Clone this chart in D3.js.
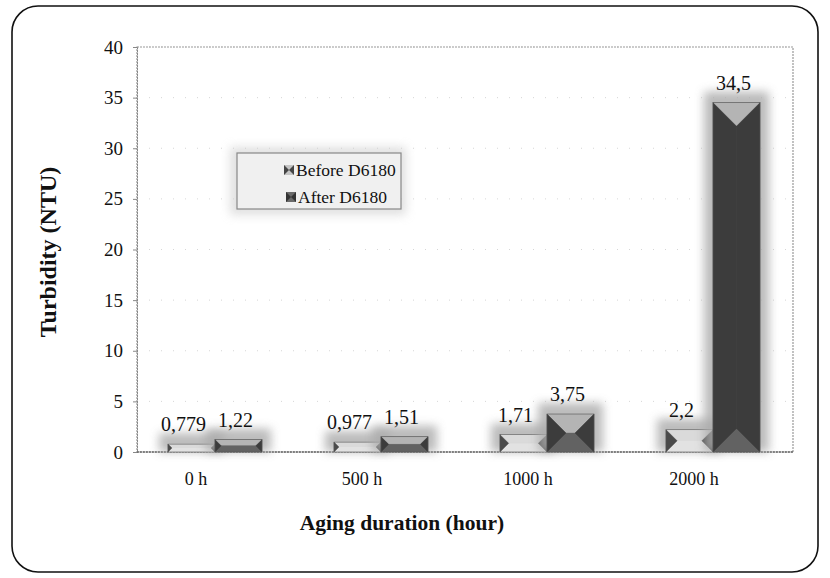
<!DOCTYPE html>
<html><head><meta charset="utf-8">
<script src="https://cdn.jsdelivr.net/npm/d3@7"></script>
<style>body{margin:0;background:#fff;} svg text{font-family:"Liberation Serif","DejaVu Serif",serif !important;}</style>
</head><body>
<svg id="c" width="830" height="578"></svg>
<script>
const categories = ["0 h", "500 h", "1000 h", "2000 h"];
const seriesNames = ["Before D6180", "After D6180"];
const beforeValues = [0.779, 0.977, 1.71, 2.2];
const afterValues = [1.22, 1.51, 3.75, 34.5];
const beforeLabels = ["0,779", "0,977", "1,71", "2,2"];
const afterLabels = ["1,22", "1,51", "3,75", "34,5"];
const yTicks = [0, 5, 10, 15, 20, 25, 30, 35, 40];

const FONT = "'Liberation Serif', 'DejaVu Serif', serif";
const svg = d3.select("#c");
const defs = svg.append("defs");
const f = defs.append("filter").attr("id","glow").attr("x","-50%").attr("y","-50%").attr("width","200%").attr("height","200%");
f.append("feGaussianBlur").attr("stdDeviation",5);

// outer rounded frame
svg.append("rect").attr("x",12).attr("y",6).attr("width",806).attr("height",566)
  .attr("rx",26).attr("ry",26).attr("fill","#fff").attr("stroke","#111").attr("stroke-width",1.6);

const plot = {l:137, r:793, t:47, b:452};
const x = d3.scaleBand().domain(categories).range([132, 796]).paddingInner(0).paddingOuter(0);
const y = d3.scaleLinear().domain([0, 40]).range([plot.b, plot.t]);
const barW = 47;

// faint gridlines
svg.append("g").selectAll("line").data(yTicks.slice(1)).join("line")
  .attr("x1",plot.l).attr("x2",plot.r).attr("y1",d=>y(d)).attr("y2",d=>y(d))
  .attr("stroke","#ccc").attr("stroke-width",0.8).attr("stroke-dasharray","1,11");

// plot border
svg.append("rect").attr("x",plot.l).attr("y",plot.t).attr("width",plot.r-plot.l).attr("height",plot.b-plot.t)
  .attr("fill","none").attr("stroke","#999").attr("stroke-width",1.2).attr("stroke-dasharray","2,1");

// y axis
const yAxis = d3.axisLeft(y).tickValues(yTicks).tickSize(4).tickPadding(10);
const ga = svg.append("g").attr("transform",`translate(${plot.l},0)`).call(yAxis);
ga.attr("font-family", FONT);
ga.select(".domain").attr("stroke","#888").attr("stroke-dasharray","2,1");
ga.selectAll(".tick line").attr("stroke","#888");
ga.selectAll("text").attr("font-size",19).attr("fill","#111").style("font-family",FONT);

// x axis baseline
svg.append("line").attr("x1",plot.l).attr("x2",plot.r).attr("y1",plot.b).attr("y2",plot.b)
  .attr("stroke","#666").attr("stroke-width",1.5).attr("stroke-dasharray","2,1");

// x tick labels
svg.append("g").selectAll("text").data(categories).join("text")
  .attr("x",d=>x(d)+x.bandwidth()/2-19).attr("y",485).attr("text-anchor","middle")
  .attr("font-size",18).attr("fill","#111").style("font-family",FONT).text(d=>d);

function bevelBar(g, x0, w, v, light, mid, dark, top, bottom) {
  const y0 = y(v), y1 = y(0), h = y1 - y0;
  const d = Math.min(w/2, h/2);
  g.append("rect").attr("x",x0-9).attr("y",y0-11).attr("width",w+18).attr("height",h+11)
    .attr("fill","#aaa").attr("opacity",0.8).attr("filter","url(#glow)");
  const xl = x0, xr = x0 + w;
  const pts = {
    tl:[xl,y0], tr:[xr,y0], bl:[xl,y1], br:[xr,y1],
    itl:[xl+d,y0+d], itr:[xr-d,y0+d], ibl:[xl+d,y1-d], ibr:[xr-d,y1-d]
  };
  const poly = (arr, fill) => g.append("polygon").attr("points",arr.map(p=>p.join(",")).join(" "))
    .attr("fill",fill).attr("stroke",fill).attr("stroke-width",0.4);
  g.append("rect").attr("x",xl).attr("y",y0).attr("width",w).attr("height",h).attr("fill",mid);
  poly([pts.tl,pts.tr,pts.itr,pts.itl], top);
  poly([pts.bl,pts.br,pts.ibr,pts.ibl], bottom);
  poly([pts.tl,pts.itl,pts.ibl,pts.bl], dark);
  poly([pts.tr,pts.itr,pts.ibr,pts.br], dark);
  g.append("rect").attr("x",xl).attr("y",y0).attr("width",w).attr("height",h)
    .attr("fill","none").attr("stroke","#555").attr("stroke-width",0.6);
}

const bars = svg.append("g");
categories.forEach((c,i)=>{
  const cx = x(c) + x.bandwidth()/2;
  bevelBar(bars, cx - barW, barW, beforeValues[i], "#e6e6e6", "#c4c4c4", "#4a4a4a", "#dadada", "#e2e2e2");
  bevelBar(bars, cx, barW, afterValues[i], "#9a9a9a", "#626262", "#3c3c3c", "#b4b4b4", "#626262");
});

// value labels
svg.append("g").selectAll("text").data(categories).join("text")
  .attr("x",(d)=>x(d)+x.bandwidth()/2-barW/2-8)
  .attr("y",(d,i)=>y(beforeValues[i])-13)
  .attr("text-anchor","middle").attr("font-size",20).attr("fill","#111").style("font-family",FONT)
  .text((d,i)=>beforeLabels[i]);
svg.append("g").selectAll("text").data(categories).join("text")
  .attr("x",(d)=>x(d)+x.bandwidth()/2+barW/2-3)
  .attr("y",(d,i)=>y(afterValues[i])-13)
  .attr("text-anchor","middle").attr("font-size",20).attr("fill","#111").style("font-family",FONT)
  .text((d,i)=>afterLabels[i]);

// legend
const lg = svg.append("g");
lg.append("rect").attr("x",230).attr("y",147).attr("width",176).attr("height",68)
  .attr("fill","#ccc").attr("opacity",0.6).attr("filter","url(#glow)");
lg.append("rect").attr("x",237).attr("y",153).attr("width",164).attr("height",56)
  .attr("fill","#f0f0f0").attr("stroke","#888").attr("stroke-width",1.2);
const legColors = [["#c4c4c4","#444"],["#6a6a6a","#333"]];
seriesNames.forEach((s,i)=>{
  const yy = 170 + i*27;
  const ix = 284 + i*2;
  lg.append("rect").attr("x",ix).attr("y",yy-5).attr("width",10).attr("height",10).attr("fill",legColors[i][0]);
  lg.append("polygon").attr("points",`${ix},${yy-5} ${ix+5},${yy} ${ix},${yy+5}`).attr("fill",legColors[i][1]);
  lg.append("polygon").attr("points",`${ix+10},${yy-5} ${ix+5},${yy} ${ix+10},${yy+5}`).attr("fill",legColors[i][1]);
  lg.append("text").attr("x",ix+12).attr("y",yy+6).attr("font-size",17.5).attr("fill","#111").style("font-family",FONT).text(s);
});

// axis titles
svg.append("text").attr("transform","translate(56,252) rotate(-90)").attr("text-anchor","middle")
  .attr("font-size",24).attr("font-weight","bold").attr("fill","#111").style("font-family",FONT).text("Turbidity (NTU)");
svg.append("text").attr("x",402).attr("y",530).attr("text-anchor","middle")
  .attr("font-size",21.5).attr("font-weight","bold").attr("fill","#111").style("font-family",FONT).text("Aging duration (hour)");
</script>
</body></html>
